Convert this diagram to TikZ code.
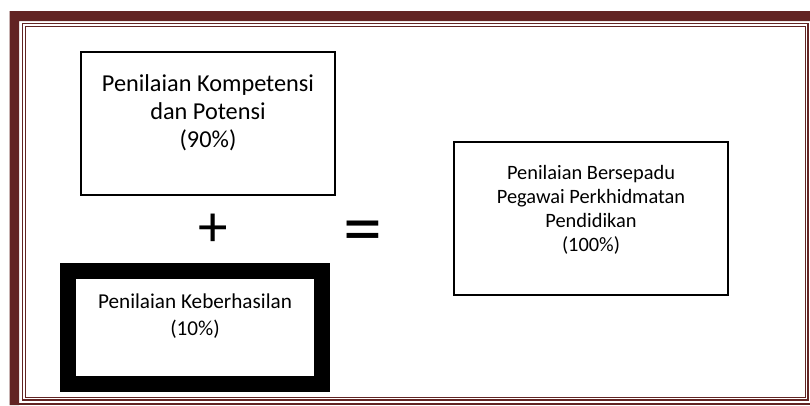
\documentclass[tikz,border=0pt]{standalone}
\usepackage{fontspec}
\setmainfont{Carlito}
\usetikzlibrary{positioning}
\definecolor{bingkai}{HTML}{622423}

\begin{document}
\begin{tikzpicture}[x=1pt, y=-1pt,
    kotak/.style={draw, line width=1.3pt, inner sep=0pt},
    teks/.style={align=center, inner sep=0pt},
    simbol/.style={inner sep=0pt}]

    \useasboundingbox (0,0) rectangle (810,405);

    % page border
    \fill[bingkai] (9.5,405) |- (810,11) -- (810,21) -| (19,405) -- cycle;
    \draw[bingkai, line width=1.2pt] (22.5,23.5) rectangle (808,400);
    \draw[bingkai, line width=1.2pt] (25.5,26.5) rectangle (805.5,397.5);
    \draw[bingkai, line width=1.2pt] (19,404) -- (810,404);

    % boxes
    \node[kotak, minimum width=254pt, minimum height=143pt] (kompetensi) at (208,123.5) {};
    \node[kotak, line width=16pt, minimum width=254pt, minimum height=113pt] (keberhasilan) at (195,327.5) {};
    \node[kotak, minimum width=274pt, minimum height=153pt] (bersepadu) at (591,218.5) {};

    \node[teks, font=\fontsize{24.3}{28}\selectfont, below=23pt of kompetensi.north] (kompetensi-teks)
        {Penilaian Kompetensi\\dan Potensi\\(90\%)};
    \node[teks, font=\fontsize{21.2}{27}\selectfont, below=31pt of keberhasilan.north] (keberhasilan-teks)
        {Penilaian Keberhasilan\\(10\%)};
    \node[teks, font=\fontsize{20.4}{24}\selectfont, below=24pt of bersepadu.north] (bersepadu-teks)
        {Penilaian Bersepadu\\Pegawai Perkhidmatan\\Pendidikan\\(100\%)};

    % operators
    \node[simbol, font=\fontsize{59}{59}\selectfont] (tambah) at (213,230) {+};
    \node[simbol, font=\fontsize{78}{78}\selectfont] (sama) at (363,238) {=};
\end{tikzpicture}
\end{document}
